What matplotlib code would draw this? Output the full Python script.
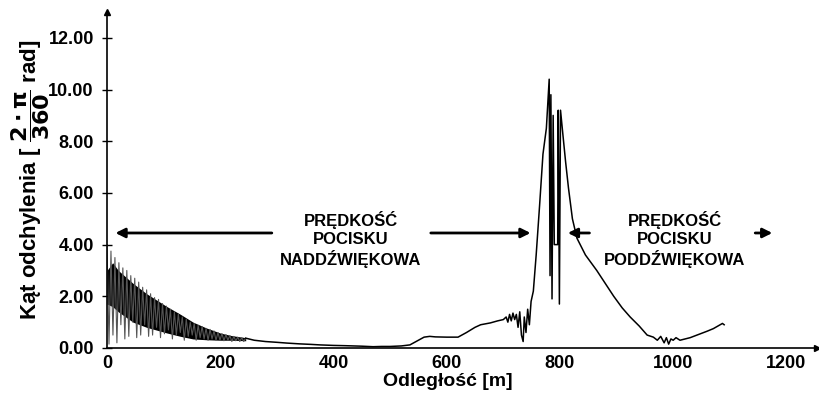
import numpy as np
import matplotlib
matplotlib.use("Agg")
import matplotlib.pyplot as plt
from matplotlib import font_manager

# Font: narrow bold sans if available
names = {f.name for f in font_manager.fontManager.ttflist}
fam = 'Liberation Sans Narrow' if 'Liberation Sans Narrow' in names else 'Liberation Sans'
plt.rcParams['font.family'] = [fam, 'DejaVu Sans']
plt.rcParams['font.weight'] = 'bold'
plt.rcParams['axes.labelweight'] = 'bold'
plt.rcParams['mathtext.fontset'] = 'dejavusans'
plt.rcParams['mathtext.default'] = 'bf'

# Oscillating part near the muzzle (zigzag: peaks and troughs, 3.5 m apart)
osc_step = 3.5
osc_hi = [4.0, 3.75, 3.5, 3.3, 3.1, 3.0, 2.8, 2.7, 2.55, 2.35, 2.25, 2.1, 1.95, 1.88,
          1.72, 1.62, 1.5, 1.4, 1.32, 1.2, 1.12, 1.0, 0.95, 0.88, 0.83, 0.76, 0.72,
          0.66, 0.6, 0.56, 0.52, 0.48, 0.45, 0.42, 0.4, 0.38]
osc_lo = [0.15, 0.5, 0.2, 0.9, 0.35, 0.45, 1.0, 0.4, 0.5, 0.9, 0.45, 0.5, 0.8, 0.4,
          0.55, 0.7, 0.35, 0.5, 0.6, 0.3, 0.45, 0.5, 0.3, 0.4, 0.35, 0.3, 0.35, 0.3,
          0.3, 0.28, 0.3, 0.25, 0.28, 0.25, 0.25]

# Dense dark band inside the oscillations
band_x = [0, 10, 20, 46, 70, 106, 130, 152, 175, 200, 220, 245]
band_hi = [3.0, 3.3, 3.0, 2.5, 2.1, 1.6, 1.3, 1.0, 0.78, 0.58, 0.48, 0.4]
band_lo = [1.7, 1.6, 1.4, 1.0, 0.8, 0.58, 0.45, 0.35, 0.32, 0.3, 0.3, 0.28]

# Rest of the trajectory
dist = [245, 260, 280, 300, 318, 340, 360, 376, 400, 420, 435, 450, 470, 485, 500,
        520, 535, 550, 560, 570, 580, 600, 620, 635, 650, 660, 677, 690, 700, 705,
        708, 711, 714, 717, 720, 723, 726, 729, 732, 735, 737, 740, 743, 746, 749,
        753, 758, 764, 770, 776, 781, 782.5, 784, 786, 788, 790, 796, 797, 799, 801,
        805, 810, 815, 822, 830, 845, 865, 880, 895, 910, 924, 940, 954, 965, 972,
        978, 984, 988, 992, 996, 1000, 1005, 1012, 1030, 1042, 1060, 1071, 1087, 1090]
angle = [0.38, 0.3, 0.25, 0.22, 0.19, 0.16, 0.14, 0.12, 0.1, 0.09, 0.08, 0.07, 0.05, 0.06, 0.06,
         0.08, 0.12, 0.3, 0.42, 0.45, 0.43, 0.42, 0.42, 0.6, 0.8, 0.9, 0.97, 1.05, 1.1, 1.2,
         1.0, 1.3, 1.05, 1.35, 1.1, 1.3, 0.8, 1.4, 0.5, 0.25, 1.2, 0.6, 1.5, 0.9, 1.8,
         2.2, 3.6, 5.5, 7.5, 8.5, 10.4, 2.8, 9.8, 1.9, 9.0, 4.0, 4.0, 9.2, 1.7, 9.2,
         8.3, 7.2, 6.2, 5.0, 4.25, 3.6, 3.0, 2.5, 2.0, 1.55, 1.2, 0.85, 0.5, 0.42, 0.3,
         0.45, 0.2, 0.4, 0.15, 0.35, 0.3, 0.4, 0.3, 0.4, 0.5, 0.65, 0.75, 0.95, 0.9]

x_ticks = [0, 200, 400, 600, 800, 1000, 1200]
y_ticks = [0, 2, 4, 6, 8, 10, 12]

# interleave zigzag
osc_y = []
for i in range(len(osc_hi)):
    osc_y.append(osc_hi[i])
    if i < len(osc_lo):
        osc_y.append(osc_lo[i])
osc_x = np.arange(len(osc_y)) * osc_step

fig = plt.figure(figsize=(8.19, 3.95), dpi=100)
ax = fig.add_axes([107 / 819, 47 / 395, 710 / 819, 336 / 395])

ax.plot(osc_x, osc_y, color='#555555', lw=0.8)
ax.fill_between(band_x, band_lo, band_hi, color='black', lw=0)
ax.plot(dist, angle, color='black', lw=1.1)

ax.set_xlim(0, 1254)
ax.set_ylim(0, 13)
ax.set_xticks(x_ticks)
ax.set_xticklabels([str(v) for v in x_ticks])
ax.set_yticks(y_ticks)
ax.set_yticklabels(['%.2f' % v for v in y_ticks])
ax.tick_params(axis='y', direction='inout', length=7, width=1, labelsize=13, pad=6)
ax.tick_params(axis='x', direction='inout', length=0, labelsize=13, pad=5)

for s in ['top', 'right']:
    ax.spines[s].set_visible(False)
for s in ['left', 'bottom']:
    ax.spines[s].set_linewidth(1.2)

# axis arrows
ax.plot(1, 0, '>', color='black', ms=5, transform=ax.transAxes, clip_on=False)
ax.plot(0, 1, '^', color='black', ms=5, transform=ax.transAxes, clip_on=False)

ax.set_xlabel('Odległość [m]', fontsize=14)
ax.xaxis.set_label_coords(0.48, -0.075)
ax.set_ylabel(r'Kąt odchylenia [ $\dfrac{2\cdot\pi}{360}$ rad]', fontsize=16)
ax.yaxis.set_label_coords(-0.078, 0.5)

# annotations
arrow = dict(arrowstyle='-|>', color='black', lw=2, mutation_scale=14)
ax.annotate('', xy=(10, 4.45), xytext=(296, 4.45), arrowprops=arrow)
ax.annotate('', xy=(753, 4.45), xytext=(567, 4.45), arrowprops=arrow)
ax.annotate('', xy=(809, 4.45), xytext=(857, 4.45), arrowprops=arrow)
ax.annotate('', xy=(1180, 4.45), xytext=(1140, 4.45), arrowprops=arrow)
ax.text(431, 4.2, 'PRĘDKOŚĆ\nPOCISKU\nNADDŹWIĘKOWA', ha='center', va='center',
        fontsize=12, linespacing=1.25)
ax.text(1003, 4.2, 'PRĘDKOŚĆ\nPOCISKU\nPODDŹWIĘKOWA', ha='center', va='center',
        fontsize=12, linespacing=1.25)

fig.savefig('out.png', dpi=100)
